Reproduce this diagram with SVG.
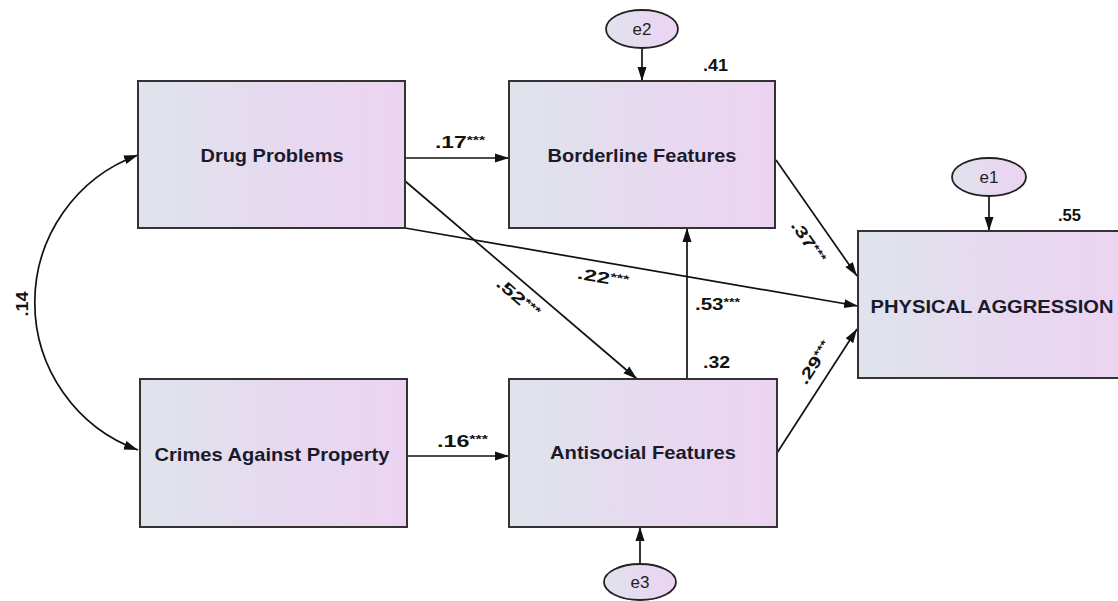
<svg xmlns="http://www.w3.org/2000/svg" width="1118" height="601" viewBox="0 0 1118 601">
<defs>
<linearGradient id="g" x1="0" y1="0" x2="1" y2="0">
<stop offset="0" stop-color="#dee4ec"/>
<stop offset="0.6" stop-color="#e8d8f0"/>
<stop offset="1" stop-color="#ecd4f1"/>
</linearGradient>
<marker id="ah" markerUnits="userSpaceOnUse" markerWidth="15" markerHeight="10" refX="14" refY="5" orient="auto-start-reverse" viewBox="0 0 15 10">
<path d="M0,0.5 L14,5 L0,9.5 z" fill="#111"/>
</marker>
</defs>
<style>
.box{fill:url(#g);stroke:#333;stroke-width:2}
.ell{fill:url(#g);stroke:#222;stroke-width:1.8}
.nt{font-family:"Liberation Sans",Arial,sans-serif;font-weight:bold;font-size:18.5px;fill:#1a1a2a;text-anchor:middle}
.et{font-family:"Liberation Sans",Arial,sans-serif;font-size:17px;fill:#222;text-anchor:middle}
.lb{font-family:"Liberation Sans",Arial,sans-serif;font-weight:bold;font-size:16px;fill:#111}
.st{font-size:11px}
.con path{fill:none;stroke:#111;stroke-width:1.7;marker-end:url(#ah)}
</style>
<g id="connectors" class="con">
<path d="M405,158 L509,158"/>
<path d="M405,181 L637,379"/>
<path d="M405,228 L858,306"/>
<path d="M776,160 L857,276"/>
<path d="M687,379 L687,228"/>
<path d="M777,453 L857,329"/>
<path d="M407,456 L509,456"/>
<path d="M642,48 L642,81"/>
<path d="M989,196 L989,231"/>
<path d="M640,564 L640,527"/>
<path d="M138,155 A157,157 0 0 0 138,450" style="marker-start:url(#ah)"/>
</g>
<g id="labels">
<text class="lb" x="435" y="148" textLength="50" lengthAdjust="spacingAndGlyphs">.17<tspan class="st" dy="-4">***</tspan></text>
<text class="lb" x="437" y="447" textLength="51" lengthAdjust="spacingAndGlyphs">.16<tspan class="st" dy="-4">***</tspan></text>
<text class="lb" x="695" y="310" textLength="45" lengthAdjust="spacingAndGlyphs">.53<tspan class="st" dy="-4">***</tspan></text>
<text class="lb" transform="translate(518,298) rotate(40.5)" x="-26" y="5" textLength="52" lengthAdjust="spacingAndGlyphs">.52<tspan class="st" dy="-4">***</tspan></text>
<text class="lb" transform="translate(603,278) rotate(9.7)" x="-26" y="5" textLength="52" lengthAdjust="spacingAndGlyphs">.22<tspan class="st" dy="-4">***</tspan></text>
<text class="lb" transform="translate(808,242) rotate(55)" x="-24" y="5" textLength="48" lengthAdjust="spacingAndGlyphs">.37<tspan class="st" dy="-4">***</tspan></text>
<text class="lb" transform="translate(815,363) rotate(-57)" x="-24" y="5" textLength="48" lengthAdjust="spacingAndGlyphs">.29<tspan class="st" dy="-4">***</tspan></text>
<text class="lb" transform="translate(22,304) rotate(-90)" x="0" y="6" text-anchor="middle" textLength="25" lengthAdjust="spacingAndGlyphs">.14</text>
<text class="lb" x="703" y="71" textLength="25" lengthAdjust="spacingAndGlyphs">.41</text>
<text class="lb" x="1058" y="221" textLength="23" lengthAdjust="spacingAndGlyphs">.55</text>
<text class="lb" x="703" y="368" textLength="27" lengthAdjust="spacingAndGlyphs">.32</text>
</g>
<g id="drug">
<rect class="box" x="138" y="81" width="267" height="147"/>
<text class="nt" x="272" y="162" textLength="143" lengthAdjust="spacingAndGlyphs">Drug Problems</text>
</g>
<g id="crimes">
<rect class="box" x="140" y="379" width="267" height="148"/>
<text class="nt" x="272" y="461" textLength="235" lengthAdjust="spacingAndGlyphs">Crimes Against Property</text>
</g>
<g id="borderline">
<rect class="box" x="509" y="81" width="266" height="147"/>
<text class="nt" x="642" y="162" textLength="189" lengthAdjust="spacingAndGlyphs">Borderline Features</text>
</g>
<g id="antisocial">
<rect class="box" x="509" y="379" width="268" height="148"/>
<text class="nt" x="643" y="459" textLength="186" lengthAdjust="spacingAndGlyphs">Antisocial Features</text>
</g>
<g id="physical">
<rect class="box" x="858" y="231" width="270" height="147"/>
<text class="nt" x="992" y="313" textLength="243" lengthAdjust="spacingAndGlyphs">PHYSICAL AGGRESSION</text>
</g>
<g id="e1">
<ellipse class="ell" cx="989" cy="177" rx="37" ry="19"/>
<text class="et" x="989" y="183">e1</text>
</g>
<g id="e2">
<ellipse class="ell" cx="642" cy="29" rx="36" ry="19"/>
<text class="et" x="642" y="35">e2</text>
</g>
<g id="e3">
<ellipse class="ell" cx="640" cy="582" rx="36" ry="18"/>
<text class="et" x="640" y="588">e3</text>
</g>
</svg>
